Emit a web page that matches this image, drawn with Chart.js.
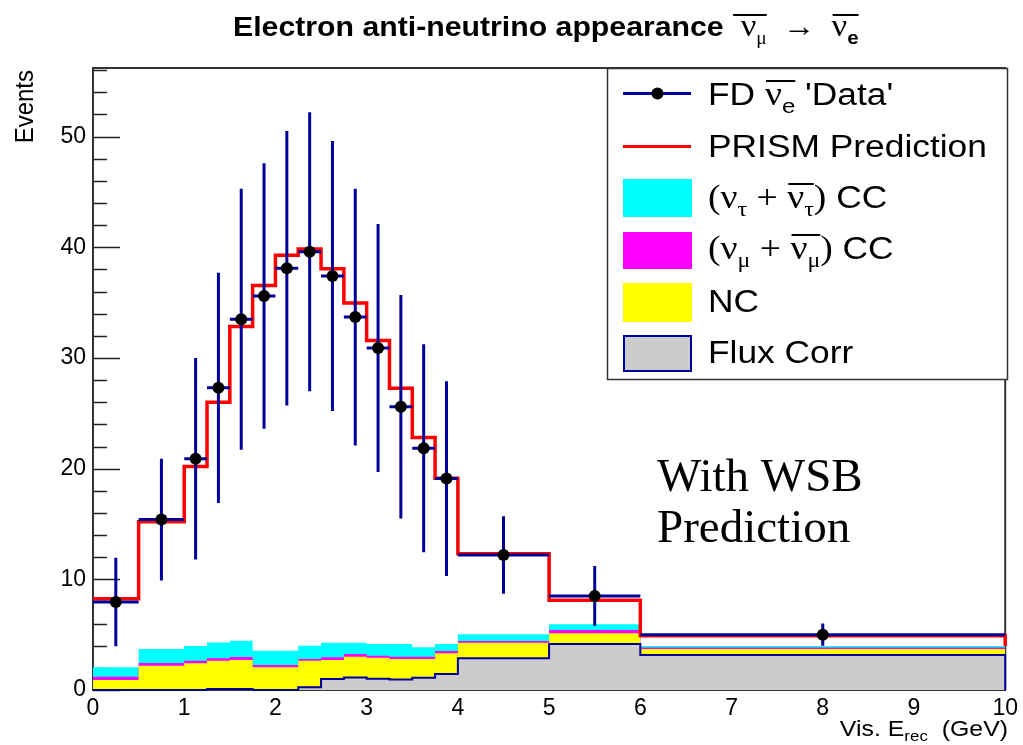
<!DOCTYPE html>
<html>
<head>
<meta charset="utf-8">
<script src="https://cdn.jsdelivr.net/npm/chart.js@4.4.1/dist/chart.umd.min.js"></script>
<style>
  html, body { margin: 0; padding: 0; background: #ffffff; }
  #wrap { width: 1023px; height: 745px; position: relative; }
</style>
</head>
<body>
<div id="wrap"><canvas id="c" width="1023" height="745"></canvas></div>
<script>
// Reconstructed-energy binning (GeV)
const binEdges = [0, 0.5, 1, 1.25, 1.5, 1.75, 2, 2.25, 2.5, 2.75, 3, 3.25, 3.5, 3.75, 4, 5, 6, 10];

// FD anti-nue "data" and its uncertainties
const dataCounts = [7.95, 15.4, 20.9, 27.3, 33.5, 35.6, 38.1, 39.6, 37.4, 33.7, 30.9, 25.6, 21.85, 19.1, 12.2, 8.5, 5.0];
const dataErrors = [4.0, 5.5, 9.1, 10.4, 11.8, 12.0, 12.4, 12.6, 12.2, 11.6, 11.2, 10.1, 9.4, 8.8, 3.5, 2.7, 1.0];

// PRISM prediction (total)
const prismPrediction = [8.25, 15.2, 20.2, 26.0, 32.85, 36.55, 39.27, 39.84, 38.07, 34.96, 31.58, 27.27, 22.81, 19.14, 12.3, 8.1, 4.9];

// Stacked components, bottom to top
const fluxCorr = [0, 0, 0, 0.1, 0.1, 0, 0, 0.24, 1.0, 1.14, 1.02, 0.96, 1.11, 1.45, 2.86, 4.16, 3.16];
const ncBkg    = [0.9, 2.2, 2.41, 2.55, 2.61, 2.05, 2.05, 2.41, 1.71, 1.86, 1.9, 1.84, 1.69, 1.86, 1.42, 0.96, 0.54];
const numuCC   = [0.3, 0.25, 0.24, 0.21, 0.27, 0.21, 0.21, 0.15, 0.24, 0.25, 0.18, 0.2, 0.2, 0.21, 0.15, 0.3, 0.13];
const nutauCC  = [0.85, 1.25, 1.33, 1.44, 1.48, 1.29, 1.29, 1.2, 1.33, 1.03, 1.06, 1.16, 0.86, 0.64, 0.6, 0.51, 0.15];

// Axis ticks
const xTicks = [0, 1, 2, 3, 4, 5, 6, 7, 8, 9, 10];
const yTicks = [0, 10, 20, 30, 40, 50];
const yMinorStep = 2;
const yMax = 56.2;

const NAVY = '#000099';
const SANS = '"Liberation Sans", Arial, Helvetica, sans-serif';
const SERIF = '"Liberation Serif", "Times New Roman", serif';

const binCenters = binEdges.slice(0, -1).map((lo, i) => (lo + binEdges[i + 1]) / 2);

function cumulate(...layers) {
  return layers[0].map((_, i) => layers.reduce((s, l) => s + l[i], 0));
}
const cumFlux = cumulate(fluxCorr);
const cumNC = cumulate(fluxCorr, ncBkg);
const cumNumu = cumulate(fluxCorr, ncBkg, numuCC);
const cumNutau = cumulate(fluxCorr, ncBkg, numuCC, nutauCC);

// Histogram outline as a list of step vertices
function stepPoints(vals) {
  const pts = [];
  vals.forEach((v, i) => {
    pts.push({ x: binEdges[i], y: v });
    pts.push({ x: binEdges[i + 1], y: v });
  });
  return pts;
}

// Text with sub-scripts and over-bars, optionally stretched horizontally
function drawRich(ctx, x, y, segs, opt) {
  const sx = opt.sx || 1;
  ctx.save();
  ctx.textBaseline = 'alphabetic';
  ctx.textAlign = 'left';
  let w = 0;
  for (const s of segs) { ctx.font = s.f; w += ctx.measureText(s.t).width; }
  let x0 = x;
  if (opt.align === 'right') x0 = x - w * sx;
  ctx.translate(x0, y);
  ctx.scale(sx, 1);
  ctx.fillStyle = opt.color || '#000';
  ctx.strokeStyle = opt.color || '#000';
  let cx = 0, barFrom = 0;
  for (const s of segs) {
    ctx.font = s.f;
    if (s.bar === 'start') barFrom = cx;
    ctx.fillText(s.t, cx, s.dy || 0);
    cx += ctx.measureText(s.t).width;
    if (s.bar === 'end') {
      ctx.lineWidth = opt.barW || 1.5;
      ctx.beginPath();
      ctx.moveTo(barFrom + 1, -opt.barY);
      ctx.lineTo(cx, -opt.barY);
      ctx.stroke();
    }
  }
  ctx.restore();
}

// Frame and inward tick marks, drawn underneath the histograms
const framePlugin = {
  id: 'frameTicks',
  beforeDatasetsDraw(chart) {
    const { ctx, chartArea: a, scales: { y } } = chart;
    ctx.save();
    ctx.strokeStyle = '#222';
    ctx.lineWidth = 1.5;
    for (let v = 0; v <= yMax; v += yMinorStep) {
      const py = Math.round(y.getPixelForValue(v)) + 0.5;
      const len = yTicks.includes(v) ? 27 : 14;
      ctx.beginPath();
      ctx.moveTo(a.left, py);
      ctx.lineTo(a.left + len, py);
      ctx.stroke();
    }
    ctx.lineWidth = 2;
    ctx.strokeStyle = '#333';
    ctx.strokeRect(a.left, a.top, a.right - a.left, a.bottom - a.top);
    ctx.restore();
  }
};

// Error bars for the data points (bin width horizontally, +-error vertically)
const errorBarPlugin = {
  id: 'errorBars',
  beforeDatasetDraw(chart, args) {
    if (args.index !== 0) return;
    const { ctx, scales: { x, y } } = chart;
    ctx.save();
    ctx.strokeStyle = NAVY;
    ctx.lineWidth = 3;
    ctx.lineCap = 'butt';
    dataCounts.forEach((v, i) => {
      const px = x.getPixelForValue(binCenters[i]);
      const py = y.getPixelForValue(v);
      ctx.beginPath();
      ctx.moveTo(x.getPixelForValue(binEdges[i]), py);
      ctx.lineTo(x.getPixelForValue(binEdges[i + 1]), py);
      ctx.moveTo(px, y.getPixelForValue(v + dataErrors[i]));
      ctx.lineTo(px, y.getPixelForValue(v - dataErrors[i]));
      ctx.stroke();
    });
    ctx.restore();
  }
};

// Title, axis titles, legend box and annotation
const overlayPlugin = {
  id: 'overlay',
  afterDraw(chart) {
    const ctx = chart.ctx;

    // Title
    drawRich(ctx, 233, 36, [
      { t: 'Electron anti-neutrino appearance ', f: 'bold 28px ' + SANS },
      { t: ' ν', f: '32px ' + SERIF, bar: 'start' },
      { t: 'μ', f: '18px ' + SERIF, dy: 8, bar: 'end' },
      { t: '  →  ', f: '30px ' + SERIF },
      { t: 'ν', f: '32px ' + SERIF, bar: 'start' },
      { t: 'e', f: 'bold 19px ' + SANS, dy: 8, bar: 'end' }
    ], { sx: 1.08, barY: 21, barW: 2 });

    // Y axis title
    ctx.save();
    ctx.translate(33, 70);
    ctx.rotate(-Math.PI / 2);
    ctx.scale(1, 1.08);
    ctx.font = '24px ' + SANS;
    ctx.fillStyle = '#000';
    ctx.textAlign = 'right';
    ctx.textBaseline = 'alphabetic';
    ctx.fillText('Events', 0, 0);
    ctx.restore();

    // X axis title
    drawRich(ctx, 1008, 736, [
      { t: 'Vis. E', f: '22px ' + SANS },
      { t: 'rec', f: '15px ' + SANS, dy: 5 },
      { t: '  (GeV)', f: '22px ' + SANS }
    ], { sx: 1.13, align: 'right' });

    // Legend box
    ctx.save();
    ctx.fillStyle = '#fff';
    ctx.fillRect(607.5, 68.5, 400, 311);
    ctx.strokeStyle = '#333';
    ctx.lineWidth = 1.5;
    ctx.strokeRect(607.5, 68.5, 400, 311);

    // Legend symbols
    ctx.lineWidth = 3;
    ctx.strokeStyle = NAVY;
    ctx.beginPath(); ctx.moveTo(623, 93.5); ctx.lineTo(691, 93.5); ctx.stroke();
    ctx.fillStyle = '#000';
    ctx.beginPath(); ctx.arc(657.5, 93.5, 6, 0, Math.PI * 2); ctx.fill();
    ctx.strokeStyle = '#ff0000';
    ctx.beginPath(); ctx.moveTo(623, 146.5); ctx.lineTo(691, 146.5); ctx.stroke();
    ctx.fillStyle = '#00ffff'; ctx.fillRect(623, 179, 69, 38);
    ctx.fillStyle = '#ff00ff'; ctx.fillRect(623, 232, 69, 37);
    ctx.fillStyle = '#ffff00'; ctx.fillRect(623, 283, 69, 39);
    ctx.fillStyle = '#cccccc'; ctx.fillRect(623, 335, 69, 37);
    ctx.strokeStyle = NAVY; ctx.lineWidth = 2;
    ctx.strokeRect(624, 336, 67, 35);
    ctx.restore();

    // Legend texts
    const F = '31px ' + SANS, G = '33px ' + SERIF, S = '21px ' + SERIF;
    const opt = { sx: 1.14, barY: 24, barW: 2 };
    drawRich(ctx, 708, 105, [
      { t: 'FD ', f: F },
      { t: 'ν', f: G, bar: 'start' },
      { t: 'e', f: '21px ' + SANS, dy: 8, bar: 'end' },
      { t: " 'Data'", f: F }
    ], opt);
    drawRich(ctx, 708, 157, [{ t: 'PRISM Prediction', f: F }], opt);
    drawRich(ctx, 708, 208, [
      { t: '(', f: G }, { t: 'ν', f: G }, { t: 'τ', f: S, dy: 8 },
      { t: ' + ', f: G },
      { t: 'ν', f: G, bar: 'start' }, { t: 'τ', f: S, dy: 8, bar: 'end' },
      { t: ')', f: G }, { t: ' CC', f: F }
    ], opt);
    drawRich(ctx, 708, 259, [
      { t: '(', f: G }, { t: 'ν', f: G }, { t: 'μ', f: S, dy: 8 },
      { t: ' + ', f: G },
      { t: 'ν', f: G, bar: 'start' }, { t: 'μ', f: S, dy: 8, bar: 'end' },
      { t: ')', f: G }, { t: ' CC', f: F }
    ], opt);
    drawRich(ctx, 708, 312, [{ t: 'NC', f: F }], opt);
    drawRich(ctx, 708, 363, [{ t: 'Flux Corr', f: F }], opt);

    // Annotation
    ctx.save();
    ctx.fillStyle = '#000';
    ctx.font = '47px ' + SERIF;
    ctx.textAlign = 'left';
    ctx.textBaseline = 'alphabetic';
    ctx.fillText('With WSB', 657, 491);
    ctx.fillText('Prediction', 657, 542);
    ctx.restore();
  }
};

const redPoints = stepPoints(prismPrediction);
redPoints.push({ x: binEdges[binEdges.length - 1], y: cumNutau[cumNutau.length - 1] });
const fluxPoints = stepPoints(cumFlux);
fluxPoints.push({ x: binEdges[binEdges.length - 1], y: 0 });

const fillLayer = (vals, color) => ({
  type: 'line',
  data: stepPoints(vals),
  fill: 'origin',
  backgroundColor: color,
  borderColor: 'rgba(0,0,0,0)',
  borderWidth: 0,
  pointRadius: 0,
  tension: 0
});

new Chart(document.getElementById('c'), {
  type: 'line',
  data: {
    datasets: [
      {
        label: "FD data",
        data: binCenters.map((c, i) => ({ x: c, y: dataCounts[i] })),
        showLine: false,
        pointRadius: 6,
        pointBackgroundColor: '#000',
        pointBorderWidth: 0,
        clip: false
      },
      {
        label: 'PRISM Prediction',
        data: redPoints,
        borderColor: '#ff0000',
        borderWidth: 3.5,
        borderJoinStyle: 'miter',
        pointRadius: 0,
        fill: false,
        tension: 0,
        clip: false
      },
      {
        label: 'Flux Corr',
        data: fluxPoints,
        fill: 'origin',
        backgroundColor: '#cccccc',
        borderColor: NAVY,
        borderWidth: 2,
        borderJoinStyle: 'miter',
        pointRadius: 0,
        tension: 0,
        clip: false
      },
      Object.assign(fillLayer(cumNC, '#ffff00'), { label: 'NC' }),
      Object.assign(fillLayer(cumNumu, '#ff00ff'), { label: 'numu CC' }),
      Object.assign(fillLayer(cumNutau, '#00ffff'), { label: 'nutau CC' })
    ]
  },
  options: {
    responsive: false,
    animation: false,
    devicePixelRatio: 1,
    layout: { padding: { top: 68, right: 16, left: 0, bottom: 0 } },
    plugins: { legend: { display: false }, title: { display: false }, tooltip: { enabled: false } },
    scales: {
      x: {
        type: 'linear',
        min: 0, max: 10,
        afterBuildTicks: s => { s.ticks = xTicks.map(v => ({ value: v })); },
        afterFit: s => { s.height = 55; },
        grid: { display: false, drawTicks: false },
        border: { display: false },
        ticks: { font: { family: SANS, size: 23 }, color: '#000', padding: 5, maxRotation: 0, autoSkip: false }
      },
      y: {
        type: 'linear',
        min: 0, max: yMax,
        afterBuildTicks: s => { s.ticks = yTicks.map(v => ({ value: v })); },
        afterFit: s => { s.width = 93; },
        grid: { display: false, drawTicks: false },
        border: { display: false },
        ticks: { font: { family: SANS, size: 23 }, color: '#000', padding: 7 }
      }
    }
  },
  plugins: [framePlugin, errorBarPlugin, overlayPlugin]
});
</script>
</body>
</html>
